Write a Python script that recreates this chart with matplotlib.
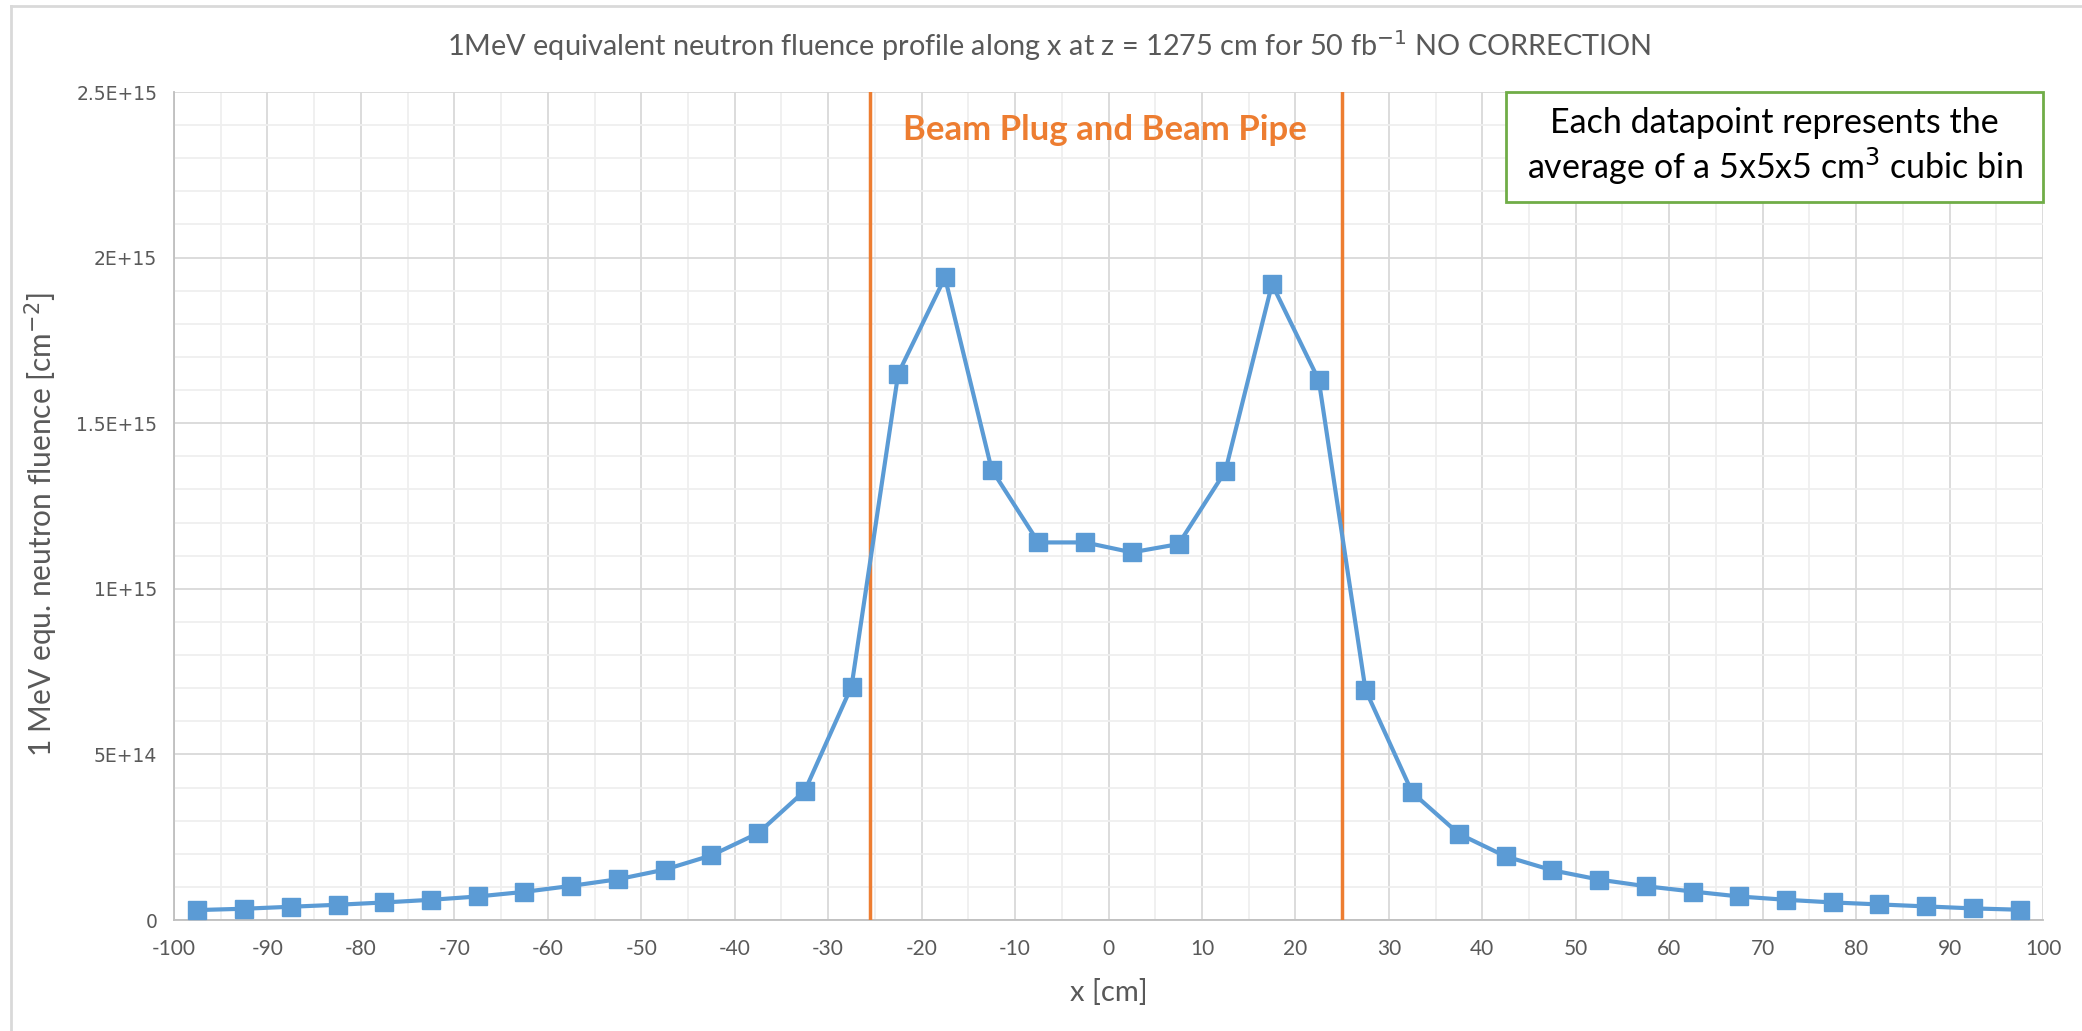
import matplotlib
matplotlib.use("Agg")
import matplotlib.pyplot as plt
from matplotlib.lines import Line2D
from matplotlib.patches import Rectangle
from matplotlib.ticker import MultipleLocator, FuncFormatter
import numpy as np

plt.rcParams['font.family'] = ['Lato', 'DejaVu Sans']

#--- data (bin centres every 5 cm)
x_cm = np.arange(-97.5, 100, 5)
fluence = [
    3.0e13, 3.4e13, 4.0e13, 4.6e13, 5.3e13, 6.1e13, 7.1e13, 8.5e13, 1.03e14, 1.23e14,
    1.52e14, 1.95e14, 2.62e14, 3.90e14, 7.05e14, 1.65e15, 1.94e15, 1.36e15, 1.14e15, 1.14e15,
    1.11e15, 1.135e15, 1.355e15, 1.92e15, 1.63e15, 6.95e14, 3.85e14, 2.60e14, 1.92e14, 1.50e14,
    1.22e14, 1.02e14, 8.6e13, 7.1e13, 6.1e13, 5.3e13, 4.7e13, 4.1e13, 3.5e13, 3.1e13,
]
pipe_edges = [-25.5, 25.0]
y_ticks = [0, 5e14, 1e15, 1.5e15, 2e15, 2.5e15]
y_tick_labels = ["0", "5E+14", "1E+15", "1.5E+15", "2E+15", "2.5E+15"]

blue = "#5B9BD5"
orange = "#ED7D31"
green = "#70AD47"
grey_txt = "#595959"

fig = plt.figure(figsize=(20.82, 10.31), dpi=100)
ax = fig.add_axes([174/2082, 1 - 920/1031, (2043-174)/2082, (920-92)/1031])

ax.plot(x_cm, fluence, color=blue, lw=3, marker='s', markersize=13.5,
        markerfacecolor=blue, markeredgecolor=blue, zorder=4)

for xe in pipe_edges:
    ax.axvline(xe, color=orange, lw=2.5, zorder=3)

ax.set_xlim(-100, 100)
ax.set_ylim(0, 2.5e15)
ax.xaxis.set_major_locator(MultipleLocator(10))
ax.xaxis.set_minor_locator(MultipleLocator(5))
ax.set_yticks(y_ticks)
ax.set_yticklabels(y_tick_labels)
ax.yaxis.set_minor_locator(MultipleLocator(1e14))
ax.xaxis.set_major_formatter(FuncFormatter(lambda v, p: f"{int(v)}"))

ax.grid(which='major', color="#d9d9d9", lw=1.3, zorder=0)
ax.grid(which='minor', color="#efefef", lw=1.3, zorder=0)
ax.set_axisbelow(True)
for s in ['top', 'right']:
    ax.spines[s].set_visible(False)
for s in ['left', 'bottom']:
    ax.spines[s].set_color("#bfbfbf")
    ax.spines[s].set_linewidth(1.3)
ax.tick_params(which='both', length=0)
ax.tick_params(axis='x', labelsize=15, colors=grey_txt, pad=14)
ax.tick_params(axis='y', labelsize=13.5, colors=grey_txt, pad=12)
for lab in ax.get_yticklabels():
    lab.set_fontfamily('DejaVu Sans')

ax.set_xlabel("x [cm]", fontsize=21, color=grey_txt, labelpad=14)
ax.set_ylabel("1 MeV equ. neutron fluence [cm$^{-2}$]", fontsize=21.5, color=grey_txt)
ax.yaxis.set_label_coords(-0.061, 0.478)

fig.text(0.504, 1 - 46/1031, "1MeV equivalent neutron fluence profile along x at z = 1275 cm for 50 fb$^{-1}$ NO CORRECTION",
         ha='center', va='center', fontsize=20.8, color=grey_txt)

ax.text(-0.4, 2.385e15, "Beam Plug and Beam Pipe", ha='center', va='center',
        fontsize=25, fontweight='bold', color=orange)

# note box in the top right corner
bx0, by0 = 0.7127, 0.867
box = Rectangle((bx0, by0), 1.0 - bx0, 1.0 - by0, transform=ax.transAxes,
                facecolor='white', edgecolor=green, lw=2, zorder=5, clip_on=False)
ax.add_patch(box)
ax.text((bx0 + 1.0) / 2, (by0 + 1.0) / 2,
        "Each datapoint represents the\naverage of a 5x5x5 cm$^3$ cubic bin",
        transform=ax.transAxes, ha='center', va='center', fontsize=24.5,
        color='black', zorder=6, linespacing=1.2)

# light frame on top and left like the screenshot
fig.add_artist(Line2D([11/2082, 11/2082], [0, 1 - 6/1031], transform=fig.transFigure, color="#d9d9d9", lw=2))
fig.add_artist(Line2D([11/2082, 1], [1 - 6/1031, 1 - 6/1031], transform=fig.transFigure, color="#d9d9d9", lw=2))

fig.savefig("out.png", dpi=100)
